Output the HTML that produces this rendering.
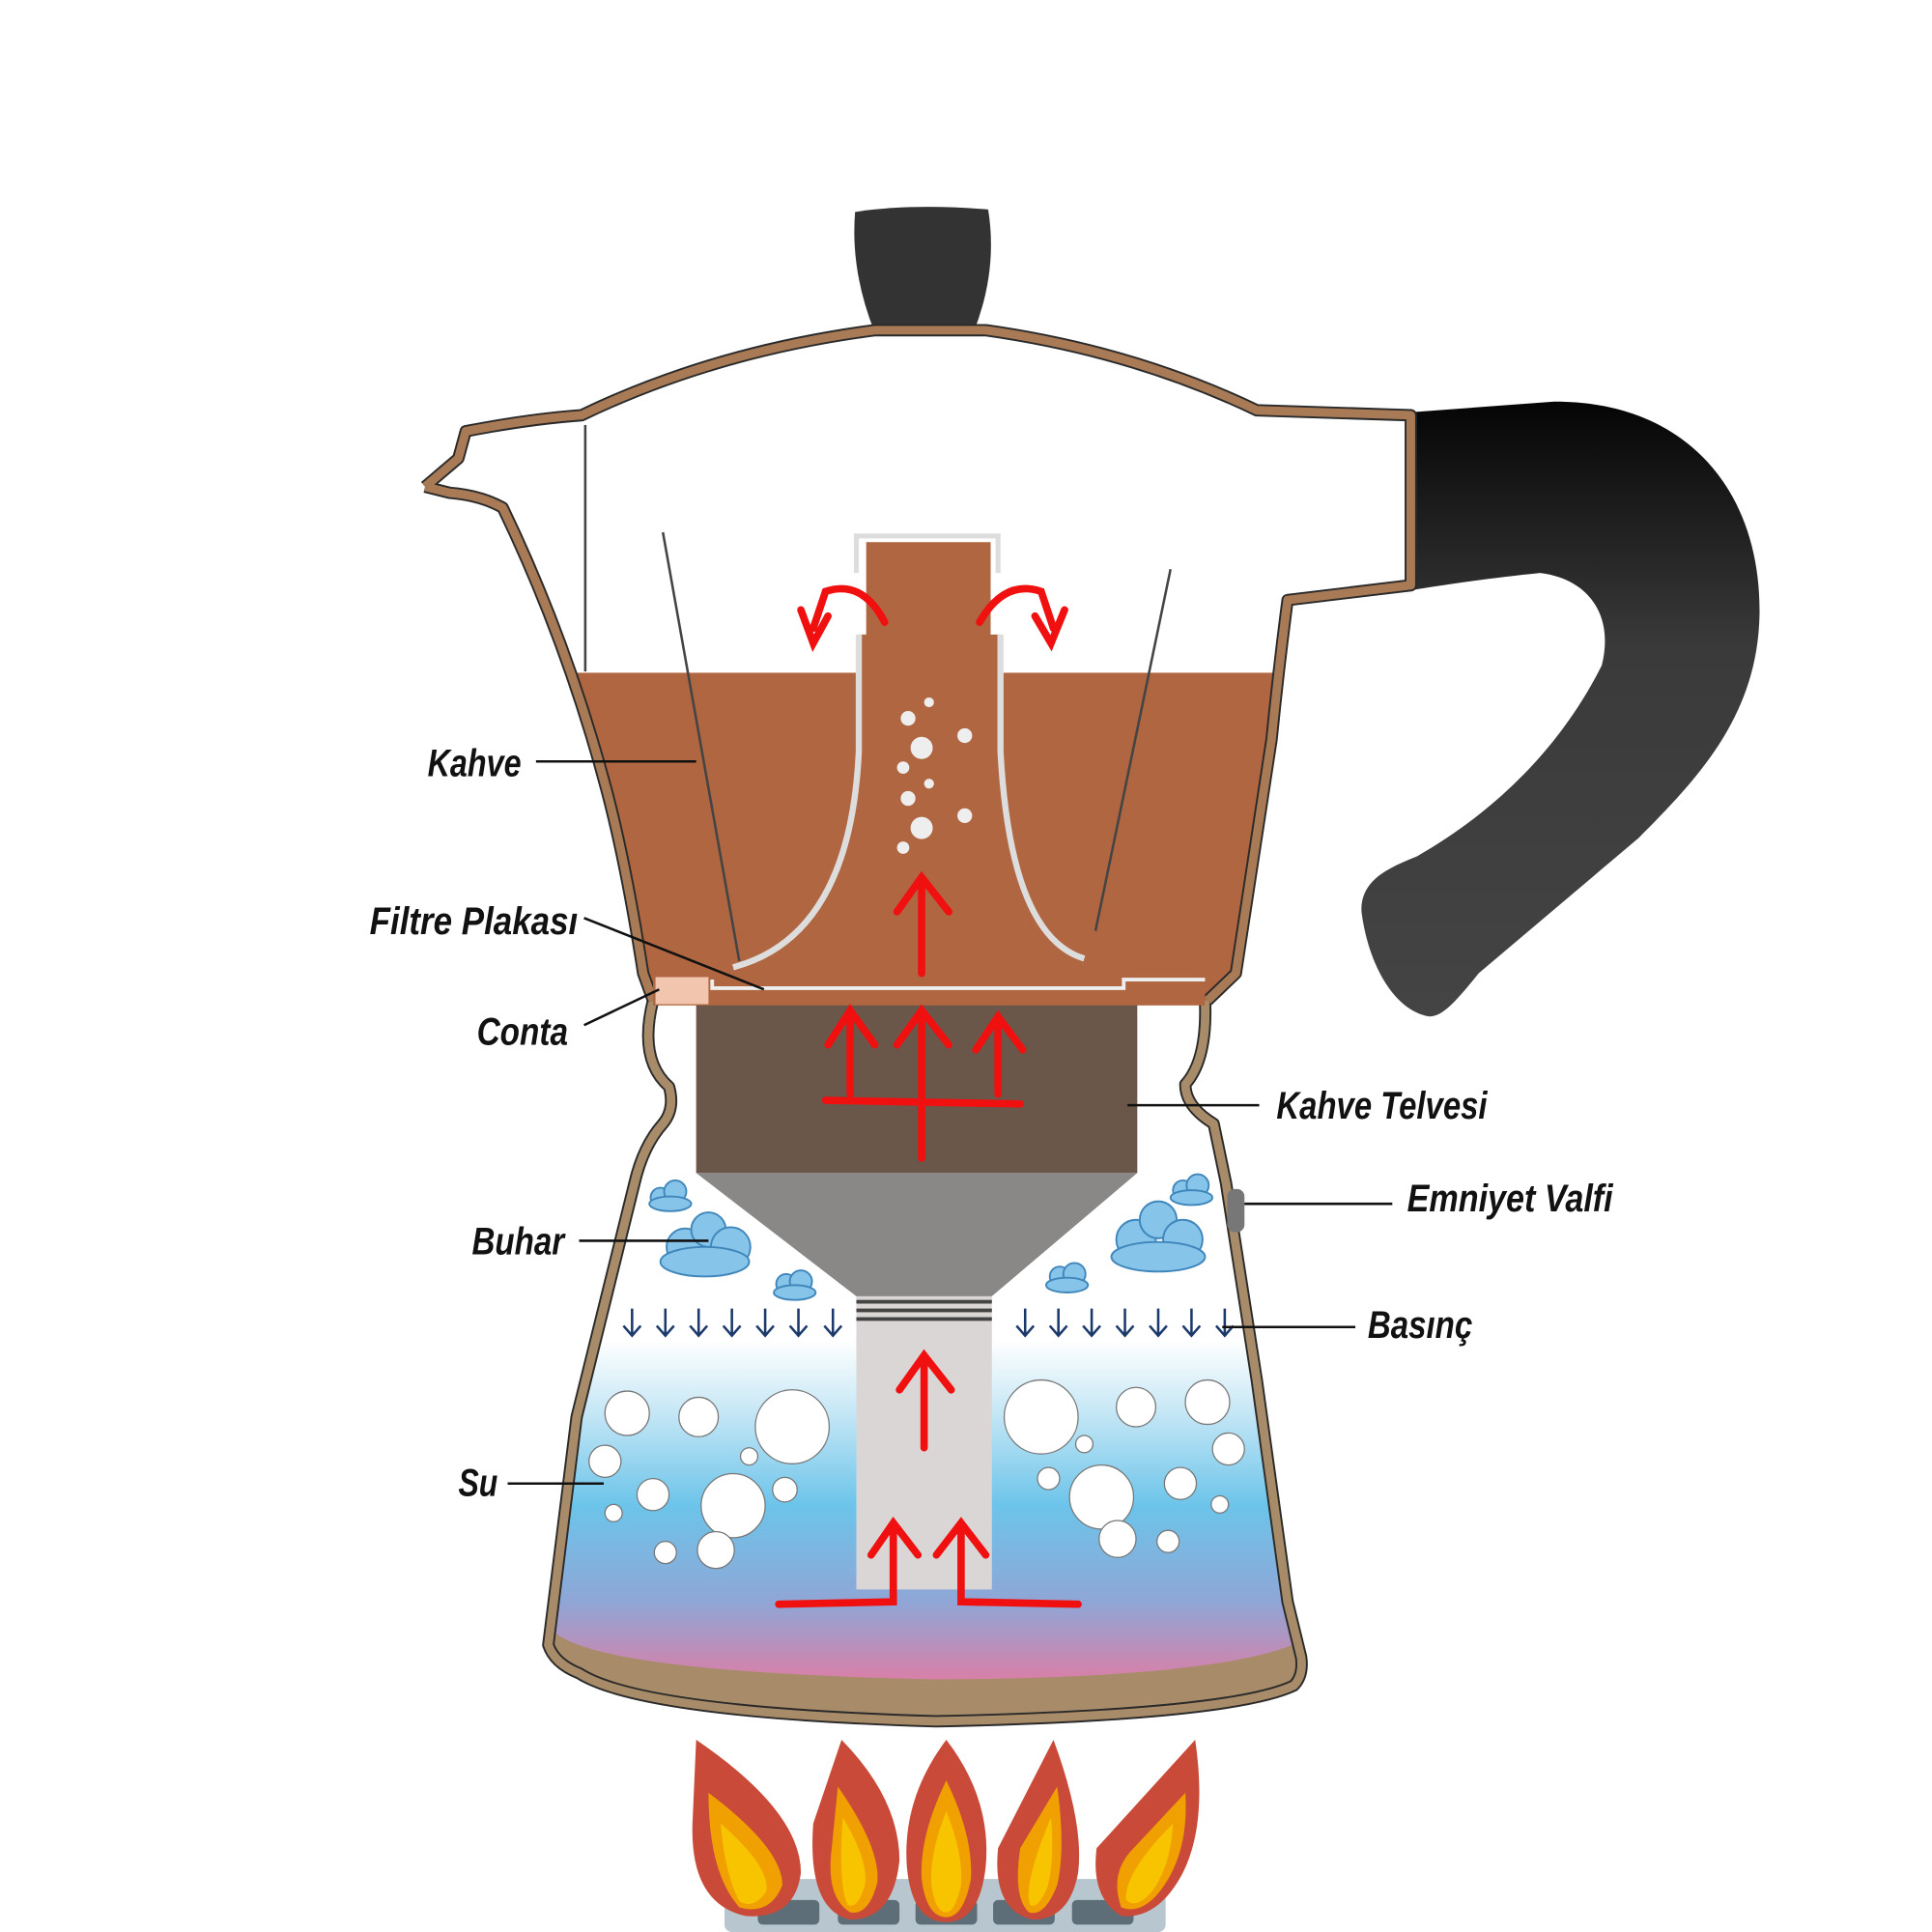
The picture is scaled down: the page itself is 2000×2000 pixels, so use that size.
<!DOCTYPE html>
<html><head><meta charset="utf-8"><style>
html,body{margin:0;padding:0;background:#fff}
svg{display:block}
.l{font-family:"Liberation Sans",sans-serif;font-weight:bold;font-style:italic;font-size:31px;fill:#111}
</style></head><body>
<svg width="2000" height="2000" viewBox="0 0 1568 1568" xmlns="http://www.w3.org/2000/svg">
<defs>
<linearGradient id="w" x1="0" y1="0" x2="0" y2="1">
<stop offset="0" stop-color="#fff"/><stop offset="0.12" stop-color="#fff"/>
<stop offset="0.3" stop-color="#c8e8f6"/><stop offset="0.55" stop-color="#6cc4ea"/>
<stop offset="0.8" stop-color="#8fa6d6"/><stop offset="1" stop-color="#d880a8"/></linearGradient>
<linearGradient id="h" x1="0" y1="0" x2="0" y2="1">
<stop offset="0" stop-color="#050505"/><stop offset="0.4" stop-color="#3a3a3a"/><stop offset="1" stop-color="#444"/></linearGradient>
<clipPath id="up"><path d="M345 395 L372 372 L378 350 Q430 340 472 337 Q580 285 710 268 L800 268 Q920 285 1020 333 L1145 337 L1145 475 L1045 487 Q1038 540 1032 600 L1003 790 L980 812 L530 812 L522 790 Q508 700 492 640 Q460 520 408 412 Q390 402 365 400 Z"/></clipPath>
<clipPath id="lo"><path d="M530 812 Q518 860 543 882 Q548 900 538 912 Q522 930 515 960 L468 1150 L445 1335 Q450 1350 470 1358 Q520 1390 760 1397 Q1000 1392 1050 1368 Q1058 1360 1056 1345 L1045 1300 L1020 1120 L995 960 L985 912 Q962 898 962 880 Q980 860 978 812 Z"/></clipPath>
</defs>
<!-- handle -->
<path d="M1140 335 L1260 326 C1370 325 1430 400 1428 500 C1426 580 1380 630 1330 680 L1200 790 C1180 815 1170 825 1160 825 C1130 820 1110 780 1105 740 C1104 715 1125 705 1150 695 C1220 655 1270 600 1300 540 C1310 500 1290 470 1250 465 C1200 470 1150 478 1140 480 Z" fill="url(#h)"/>
<!-- knob -->
<path d="M694 172 Q740 165 802 170 Q810 220 790 270 L710 270 Q690 220 694 172 Z" fill="#333"/>
<!-- lower body -->
<g clip-path="url(#lo)">
<rect x="400" y="800" width="700" height="620" fill="#fff"/>
<rect x="400" y="1290" width="700" height="130" fill="#a88b68"/>
<path d="M440 1050 L1060 1050 L1060 1330 Q1000 1362 760 1363 Q520 1358 462 1332 L440 1320 Z" fill="url(#w)"/>
</g>
<path d="M530 812 Q518 860 543 882 Q548 900 538 912 Q522 930 515 960 L468 1150 L445 1335 Q450 1350 470 1358 Q520 1390 760 1397 Q1000 1392 1050 1368 Q1058 1360 1056 1345 L1045 1300 L1020 1120 L995 960 L985 912 Q962 898 962 880 Q980 860 978 812" fill="none" stroke="#2a2a2a" stroke-width="10" stroke-linejoin="round"/>
<path d="M530 812 Q518 860 543 882 Q548 900 538 912 Q522 930 515 960 L468 1150 L445 1335 Q450 1350 470 1358 Q520 1390 760 1397 Q1000 1392 1050 1368 Q1058 1360 1056 1345 L1045 1300 L1020 1120 L995 960 L985 912 Q962 898 962 880 Q980 860 978 812" fill="none" stroke="#a88b68" stroke-width="7" stroke-linejoin="round"/>
<!-- bubbles -->
<g fill="#fff" stroke="#777" stroke-width="1">
<circle cx="509" cy="1147" r="18"/><circle cx="567" cy="1150" r="16"/><circle cx="643" cy="1158" r="30"/>
<circle cx="491" cy="1186" r="13"/><circle cx="530" cy="1213" r="13"/><circle cx="595" cy="1222" r="26"/>
<circle cx="637" cy="1209" r="10"/><circle cx="581" cy="1258" r="15"/><circle cx="540" cy="1260" r="9"/><circle cx="498" cy="1228" r="7"/>
<circle cx="845" cy="1150" r="30"/><circle cx="922" cy="1142" r="16"/><circle cx="980" cy="1138" r="18"/>
<circle cx="997" cy="1176" r="13"/><circle cx="894" cy="1215" r="26"/><circle cx="958" cy="1204" r="13"/>
<circle cx="907" cy="1249" r="15"/><circle cx="948" cy="1251" r="9"/><circle cx="851" cy="1200" r="9"/><circle cx="990" cy="1221" r="7"/>
<circle cx="880" cy="1172" r="7"/><circle cx="608" cy="1182" r="7"/>
</g>
<!-- pressure arrows -->
<g stroke="#1b3a6b" stroke-width="2" fill="none">
<path d="M513 1062v22m-7-8l7 8l7-8M540 1062v22m-7-8l7 8l7-8M567 1062v22m-7-8l7 8l7-8M594 1062v22m-7-8l7 8l7-8M621 1062v22m-7-8l7 8l7-8M648 1062v22m-7-8l7 8l7-8M676 1062v22m-7-8l7 8l7-8"/>
<path d="M832 1062v22m-7-8l7 8l7-8M859 1062v22m-7-8l7 8l7-8M886 1062v22m-7-8l7 8l7-8M913 1062v22m-7-8l7 8l7-8M940 1062v22m-7-8l7 8l7-8M967 1062v22m-7-8l7 8l7-8M994 1062v22m-7-8l7 8l7-8"/>
</g>
<!-- clouds -->
<g fill="#86c4ea" stroke="#3f86bb" stroke-width="1.5">
<circle cx="536" cy="972" r="8"/><circle cx="548" cy="967" r="9"/><ellipse cx="544" cy="977" rx="17" ry="6"/>
<circle cx="556" cy="1012" r="15"/><circle cx="575" cy="998" r="14"/><circle cx="593" cy="1012" r="16"/><ellipse cx="572" cy="1024" rx="36" ry="12"/>
<circle cx="638" cy="1042" r="8"/><circle cx="650" cy="1040" r="9"/><ellipse cx="645" cy="1049" rx="17" ry="6"/>
<circle cx="960" cy="966" r="8"/><circle cx="972" cy="962" r="9"/><ellipse cx="967" cy="972" rx="17" ry="6"/>
<circle cx="922" cy="1006" r="16"/><circle cx="940" cy="990" r="15"/><circle cx="960" cy="1006" r="16"/><ellipse cx="940" cy="1020" rx="38" ry="12"/>
<circle cx="860" cy="1036" r="8"/><circle cx="872" cy="1034" r="9"/><ellipse cx="866" cy="1043" rx="17" ry="6"/>
</g>
<!-- valve -->
<rect x="996" y="965" width="14" height="35" rx="6" fill="#777"/>
<!-- lower tube -->
<rect x="695" y="1052" width="110" height="238" fill="#dad6d6"/>
<rect x="695" y="1055" width="110" height="3" fill="#444"/><rect x="695" y="1062" width="110" height="3" fill="#444"/><rect x="695" y="1069" width="110" height="3" fill="#444"/>
<!-- grounds & funnel -->
<rect x="565" y="812" width="358" height="140" fill="#6a574a"/>
<path d="M565 952 L923 952 L805 1052 L695 1052 Z" fill="#8a8787"/>
<!-- upper body -->
<g clip-path="url(#up)">
<rect x="330" y="260" width="830" height="560" fill="#fff"/>
<rect x="330" y="546" width="830" height="270" fill="#b06640"/>
</g>
<path d="M345 395 L372 372 L378 350 Q430 340 472 337 Q580 285 710 268 L800 268 Q920 285 1020 333 L1145 337 L1145 475 L1045 487 Q1038 540 1032 600 L1003 790 L980 812 M530 812 L522 790 Q508 700 492 640 Q460 520 408 412 Q390 402 365 400 L345 395" fill="none" stroke="#2a2a2a" stroke-width="10" stroke-linejoin="round"/>
<path d="M345 395 L372 372 L378 350 Q430 340 472 337 Q580 285 710 268 L800 268 Q920 285 1020 333 L1145 337 L1145 475 L1045 487 Q1038 540 1032 600 L1003 790 L980 812 M530 812 L522 790 Q508 700 492 640 Q460 520 408 412 Q390 402 365 400 L345 395" fill="none" stroke="#a87a55" stroke-width="7" stroke-linejoin="round"/>
<path d="M475 345 L475 545 M538 432 L600 780 M950 462 L884 780" stroke="#444" stroke-width="2" fill="none"/>
<!-- central tube -->
<path d="M695 465 L695 435 L810 435 L810 465" stroke="#ddd" stroke-width="4" fill="none"/>
<path d="M697 515 L697 610 Q690 760 580 790 L975 790 Q840 770 812 610 L812 515 Z" fill="#b06640"/>
<rect x="703" y="440" width="101" height="80" fill="#b06640"/>
<path d="M697 515 L697 610 Q690 760 595 785 M812 515 L812 610 Q820 760 880 778" stroke="#ddd" stroke-width="5" fill="none"/>
<!-- gasket/plate -->
<rect x="530" y="790" width="448" height="26" fill="#b06640"/>
<rect x="532" y="793" width="43" height="22" fill="#f2c6ae"/>
<path d="M578 795 L578 802 L912 802 L912 795 L978 795" stroke="#eee" stroke-width="3" fill="none"/>
<!-- bubbles in tube -->
<g fill="#eee"><circle cx="748" cy="607" r="9"/><circle cx="737" cy="583" r="6"/><circle cx="783" cy="597" r="6"/><circle cx="733" cy="623" r="5"/><circle cx="754" cy="570" r="4"/>
<circle cx="748" cy="672" r="9"/><circle cx="737" cy="648" r="6"/><circle cx="783" cy="662" r="6"/><circle cx="733" cy="688" r="5"/><circle cx="754" cy="636" r="4"/></g>
<!-- red arrows -->
<g stroke="#f01010" stroke-width="6" fill="none" stroke-linecap="round">
<path d="M748 790 V712 M728 740 L748 712 L770 740"/>
<path d="M718 505 Q700 470 670 480 L660 510 M650 495 L660 522 L672 500"/>
<path d="M795 505 Q815 470 845 480 L855 510 M840 500 L853 522 L864 495"/>
<path d="M670 893 L828 896 M748 940 V820 M728 848 L748 820 L770 848 M690 888 V820 M672 848 L690 820 L710 848 M810 888 V825 M792 852 L810 825 L830 852"/>
<path d="M750 1175 V1100 M730 1128 L750 1100 L772 1128"/>
<path d="M632 1302 L725 1300 V1236 M707 1262 L725 1236 L745 1262 M875 1302 L780 1300 V1236 M760 1262 L780 1236 L800 1262"/>
</g>
<!-- flames -->
<rect x="588" y="1525" width="358" height="43" rx="6" fill="#b8c7cf"/>
<g fill="#5e6e78"><rect x="615" y="1542" width="50" height="20" rx="4"/><rect x="680" y="1542" width="50" height="20" rx="4"/><rect x="743" y="1542" width="50" height="20" rx="4"/><rect x="806" y="1542" width="50" height="20" rx="4"/><rect x="870" y="1542" width="50" height="20" rx="4"/></g>
<g fill="#c94a38">
<path d="M565 1412 Q650 1470 650 1520 Q645 1558 605 1555 Q560 1545 562 1480 Z"/>
<path d="M683 1412 Q730 1460 730 1510 Q725 1558 690 1558 Q655 1550 660 1480 Z"/>
<path d="M768 1412 Q805 1460 800 1515 Q795 1560 768 1560 Q740 1560 736 1515 Q732 1460 768 1412 Z"/>
<path d="M855 1412 Q880 1480 875 1520 Q868 1558 838 1558 Q805 1550 810 1500 Z"/>
<path d="M970 1412 Q980 1480 960 1520 Q940 1558 910 1555 Q885 1540 890 1500 Z"/>
</g>
<g fill="#f0a000">
<path d="M575 1455 Q635 1500 635 1530 Q625 1555 600 1548 Q575 1520 575 1455 Z"/>
<path d="M680 1450 Q715 1500 712 1528 Q705 1555 690 1552 Q670 1540 675 1500 Z"/>
<path d="M768 1445 Q790 1490 788 1525 Q782 1556 768 1556 Q752 1556 748 1525 Q746 1490 768 1445 Z"/>
<path d="M858 1450 Q865 1500 858 1530 Q848 1556 835 1552 Q822 1540 828 1500 Z"/>
<path d="M962 1455 Q965 1500 945 1530 Q928 1555 910 1548 Q900 1520 920 1500 Z"/>
</g>
<g fill="#f8c400">
<path d="M585 1480 Q625 1515 622 1535 Q612 1550 600 1543 Q588 1520 585 1480 Z"/>
<path d="M684 1475 Q705 1510 702 1530 Q696 1550 688 1546 Q680 1530 684 1475 Z"/>
<path d="M768 1470 Q782 1505 780 1530 Q775 1552 768 1552 Q759 1552 756 1530 Q754 1505 768 1470 Z"/>
<path d="M853 1475 Q856 1510 850 1532 Q842 1550 836 1546 Q830 1530 853 1475 Z"/>
<path d="M952 1480 Q950 1515 935 1535 Q922 1550 914 1542 Q912 1520 952 1480 Z"/>
</g>
<!-- labels -->
<g stroke="#111" stroke-width="2">
<line x1="435" y1="618" x2="565" y2="618"/><line x1="474" y1="745" x2="620" y2="803"/>
<line x1="474" y1="832" x2="535" y2="803"/><line x1="470" y1="1007" x2="575" y2="1007"/>
<line x1="412" y1="1204" x2="490" y2="1204"/><line x1="915" y1="897" x2="1022" y2="897"/>
<line x1="1010" y1="977" x2="1130" y2="977"/><line x1="992" y1="1077" x2="1100" y2="1077"/>
</g>
<text class="l" x="347" y="630" textLength="76" lengthAdjust="spacingAndGlyphs">Kahve</text>
<text class="l" x="300" y="758" textLength="169" lengthAdjust="spacingAndGlyphs">Filtre Plakası</text>
<text class="l" x="387" y="848" textLength="74" lengthAdjust="spacingAndGlyphs">Conta</text>
<text class="l" x="383" y="1018" textLength="75" lengthAdjust="spacingAndGlyphs">Buhar</text>
<text class="l" x="372" y="1214" textLength="32" lengthAdjust="spacingAndGlyphs">Su</text>
<text class="l" x="1036" y="908" textLength="171" lengthAdjust="spacingAndGlyphs">Kahve Telvesi</text>
<text class="l" x="1142" y="983" textLength="167" lengthAdjust="spacingAndGlyphs">Emniyet Valfi</text>
<text class="l" x="1110" y="1086" textLength="85" lengthAdjust="spacingAndGlyphs">Basınç</text>
</svg>
</body></html>
